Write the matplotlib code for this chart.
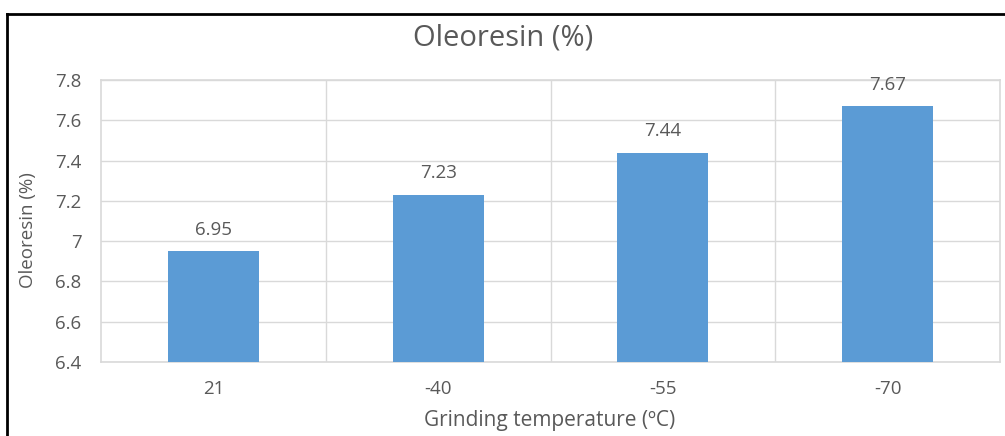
import matplotlib.pyplot as plt
from matplotlib.lines import Line2D

plt.rcParams['font.family'] = ['Open Sans', 'DejaVu Sans']

# data
temps = ['21', '-40', '-55', '-70']
oleoresin = [6.95, 7.23, 7.44, 7.67]
y_ticks = [6.4, 6.6, 6.8, 7, 7.2, 7.4, 7.6, 7.8]
y_labels = ['6.4', '6.6', '6.8', '7', '7.2', '7.4', '7.6', '7.8']

text_col = '#595959'
grid_col = '#d9d9d9'
bar_col = '#5b9bd5'

fig = plt.figure(figsize=(10.05, 4.36), dpi=100)
ax = fig.add_axes([101/1005, 1 - 362/436, (1000 - 101)/1005, (362 - 80)/436])

x = list(range(len(temps)))
bars = ax.bar(x, oleoresin, width=0.405, color=bar_col, zorder=3)
for b, v in zip(bars, oleoresin):
    ax.annotate('{:.2f}'.format(v), (b.get_x() + b.get_width()/2, v),
                xytext=(0, 9), textcoords='offset points', ha='center', va='bottom',
                fontsize=13.5, color=text_col)

ax.set_xlim(-0.5, len(temps) - 0.5)
ax.set_ylim(6.4, 7.8)
ax.set_yticks(y_ticks)
ax.set_yticklabels(y_labels)
ax.set_xticks(x)
ax.set_xticklabels(temps)
ax.set_xticks([i + 0.5 for i in x[:-1]], minor=True)

ax.grid(axis='y', color=grid_col, lw=1, zorder=0)
ax.grid(axis='x', which='minor', color=grid_col, lw=1, zorder=0)
ax.tick_params(axis='both', which='both', length=0, colors=text_col, labelsize=13.5)
ax.tick_params(axis='x', pad=13)
ax.tick_params(axis='y', pad=14)
for s in ax.spines.values():
    s.set_color(grid_col)
    s.set_linewidth(1.2)

fig.text(550/1005, 1 - 420/436, 'Grinding temperature (ºC)', ha='center', va='center',
         fontsize=15, color=text_col)
fig.text(28/1005, 1 - 230/436, 'Oleoresin (%)', ha='center', va='center', rotation=90,
         fontsize=13.5, color=text_col)
fig.text(503/1005, 1 - 38/436, 'Oleoresin (%)', ha='center', va='center',
         fontsize=21, color=text_col)

# outer frame (top and left only, as in the picture)
fig.add_artist(Line2D([7/1005, 7/1005], [0, 1 - 14/436], transform=fig.transFigure, color='black', lw=2))
fig.add_artist(Line2D([7/1005, 1], [1 - 14/436, 1 - 14/436], transform=fig.transFigure, color='black', lw=2))

fig.savefig('out.png', dpi=100)
